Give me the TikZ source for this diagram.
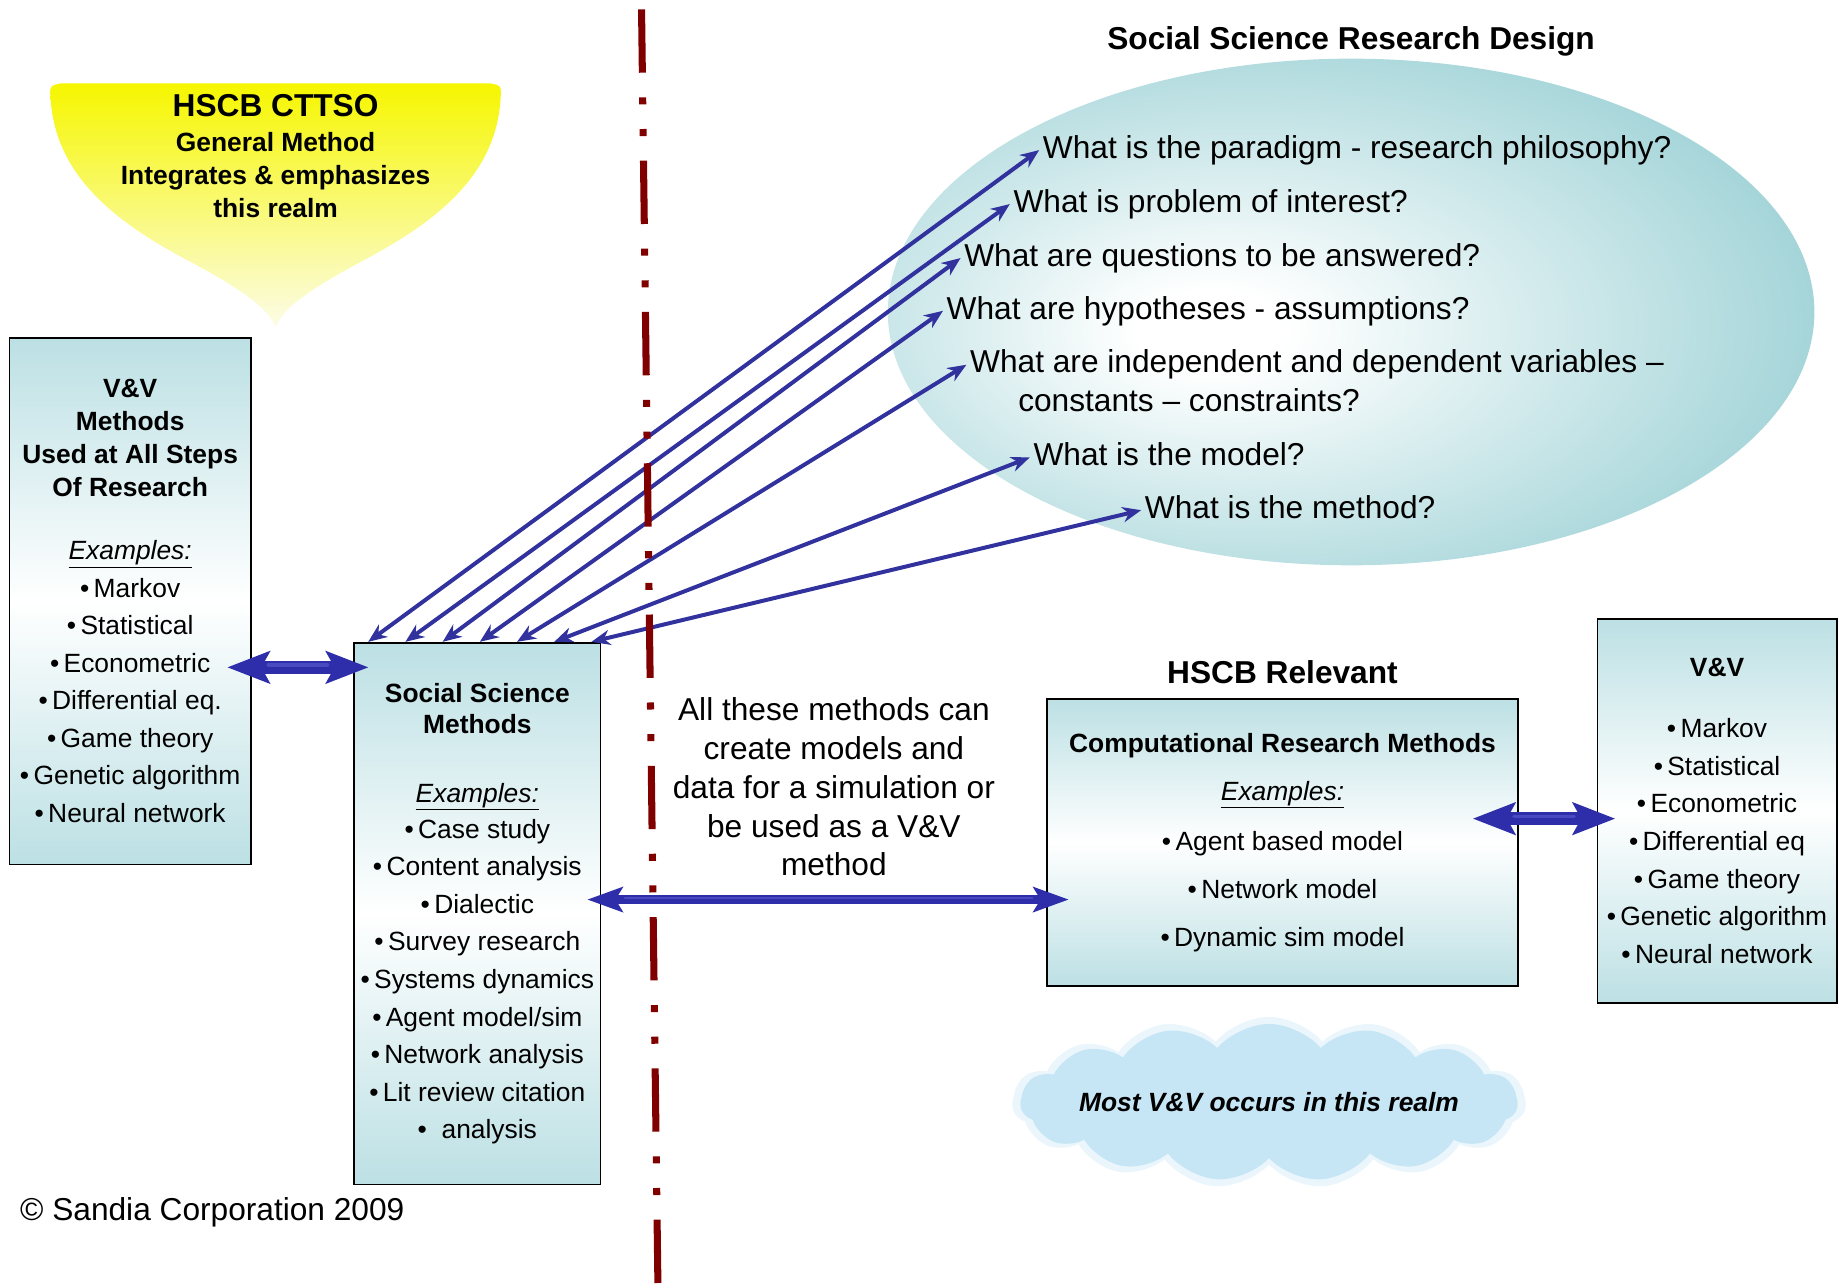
\documentclass[tikz,border=0pt]{standalone}
\usepackage{fontspec}
\setmainfont{Liberation Sans}
\usetikzlibrary{positioning, calc, arrows.meta, shapes.geometric, shapes.symbols}

\definecolor{boxteal}{RGB}{188,224,228}
\definecolor{designteal}{RGB}{122,193,199}
\definecolor{arrowblue}{RGB}{50,50,158}
\definecolor{fatblue}{RGB}{46,46,170}
\definecolor{fatlight}{RGB}{74,74,192}
\definecolor{realmred}{RGB}{128,0,0}
\definecolor{funnelyellow}{RGB}{246,246,0}
\definecolor{funnelpale}{RGB}{252,252,232}
\definecolor{cloudblue}{RGB}{198,230,246}

\newcommand{\bigtxt}{\fontsize{27}{33}\selectfont}
\newcommand{\boxtxt}{\fontsize{22.5}{32}\selectfont}
\newcommand{\examples}{\underline{\textit{Examples:}}}

\pgfdeclareradialshading{designglow}{\pgfpoint{-8bp}{-2bp}}{color(0bp)=(white); color(4bp)=(white); color(42bp)=(designteal); color(70bp)=(designteal)}

\tikzset{
  vvbox/.style={draw, line width=1.5pt, top color=boxteal, bottom color=boxteal, middle color=white, align=center, inner sep=0pt, font=\boxtxt},
  question/.style={anchor=west, inner sep=3pt, font=\bigtxt, text height=19pt, text depth=5pt},
  qarrow/.style={draw=arrowblue, line width=3.4pt, {Stealth[length=16pt,width=13pt]}-{Stealth[length=16pt,width=13pt]}},
  fatarrow/.style={draw=fatblue, line width=11pt, {Stealth[length=36pt,width=27pt,inset=7pt]}-{Stealth[length=36pt,width=27pt,inset=7pt]}},
  longarrow/.style={draw=fatblue, line width=8pt, {Stealth[length=30pt,width=21pt,inset=6pt]}-{Stealth[length=30pt,width=21pt,inset=6pt]}},
  shine/.style={draw=fatlight, line width=3pt, line cap=round},
}

\begin{document}
\begin{tikzpicture}[x=1pt, y=-1pt, >=Stealth]
    \useasboundingbox (0,0) rectangle (1568,1098);
    % yellow funnel
    \shade[top color=funnelyellow, bottom color=funnelpale] (43,80) .. controls (43,73) .. (52,71) -- (418,71) .. controls (427,73) .. (427,80) .. controls (425,150) and (370,190) .. (310,222) .. controls (265,246) and (242,262) .. (235,279) .. controls (228,262) and (205,246) .. (160,222) .. controls (100,190) and (45,150) .. cycle;
    \node[font=\fontsize{22.5}{28}\selectfont\bfseries, align=center] (cttso) at (235,133) {{\fontsize{27}{28}\selectfont HSCB CTTSO}\\[2pt] General Method\\ Integrates \& emphasizes\\ this realm};
    % research design
    \node[ellipse, shade, shading=designglow, minimum width=790pt, minimum height=432pt, inner sep=0pt] (design) at (1152,266) {};
    \node[font=\bigtxt\bfseries, inner sep=0pt, above=2pt of design] (designtitle) {Social Science Research Design};
    \node[question] (q1) at (886,128) {What is the paradigm - research philosophy?};
    \node[question] (q2) at (861,174) {What is problem of interest?};
    \node[question] (q3) at (819,220) {What are questions to be answered?};
    \node[question] (q4) at (804,265) {What are hypotheses - assumptions?};
    \node[question] (q5) at (824,311) {What are independent and dependent variables --};
    \node[question] (q5b) at (865,344) {constants -- constraints?};
    \node[question] (q6) at (878,390) {What is the model?};
    \node[question] (q7) at (973,435) {What is the method?};
    % boxes
    \node[vvbox, minimum width=206pt, minimum height=449pt] (vvl) at (111,512.5) {\textbf{V\&V}\\[-4pt] \textbf{Methods}\\[-4pt] \textbf{Used at All Steps}\\[-4pt] \textbf{Of Research}\\[22pt] \examples\\ •\,Markov\\ •\,Statistical\\ •\,Econometric\\ •\,Differential eq.\\ •\,Game theory\\ •\,Genetic algorithm\\ •\,Neural network};
    \node[vvbox, minimum width=210pt, minimum height=462pt] (ssm) at (407,779) {\textbf{Social Science}\\[-5pt] \textbf{Methods}\\[26pt] \examples\\[-1pt] •\,Case study\\ •\,Content analysis\\ •\,Dialectic\\ •\,Survey research\\ •\,Systems dynamics\\ •\,Agent model/sim\\ •\,Network analysis\\ •\,Lit review citation\\ •~~analysis};
    \node[vvbox, minimum width=401pt, minimum height=245pt, font=\fontsize{22.5}{41}\selectfont] (crm) at (1093.5,718.5) {\textbf{Computational Research Methods}\\ \examples\\[2pt] •\,Agent based model\\ •\,Network model\\ •\,Dynamic sim model};
    \node[font=\bigtxt\bfseries, inner sep=0pt, above=12pt of crm] (relevant) {HSCB Relevant};
    \node[vvbox, minimum width=204pt, minimum height=327pt] (rvv) at (1464,691.5) {\textbf{V\&V}\\[20pt] •\,Markov\\ •\,Statistical\\ •\,Econometric\\ •\,Differential eq\\ •\,Game theory\\ •\,Genetic algorithm\\ •\,Neural network};
    % design questions
    \foreach \q [count=\i, evaluate=\i as \f using 0.06+0.15*(\i-1)] in {q1,q2,q3,q4,q5,q6,q7}
        \draw[qarrow] ($(ssm.north west)!\f!(ssm.north east)$) -- (\q.west);
    % links between the boxes
    \coordinate (fat1) at (0,569);
    \coordinate (fat2) at (0,767);
    \coordinate (fat3) at (0,698);
    \draw[fatarrow, shorten <=-21pt, shorten >=-13pt] (vvl.east |- fat1) -- (ssm.west |- fat1);
    \draw[shine, shorten <=14pt, shorten >=22pt, transform canvas={yshift=2pt}] (vvl.east |- fat1) -- (ssm.west |- fat1);
    \draw[longarrow, shorten <=-12pt, shorten >=-19pt] (ssm.east |- fat2) -- (crm.west |- fat2);
    \draw[shine, line width=2pt, shorten <=20pt, shorten >=12pt, transform canvas={yshift=1.5pt}] (ssm.east |- fat2) -- (crm.west |- fat2);
    \draw[fatarrow, shorten <=-39pt, shorten >=-16pt] (crm.east |- fat3) -- (rvv.west |- fat3);
    \draw[shine, shorten <=-4pt, shorten >=19pt, transform canvas={yshift=2pt}] (crm.east |- fat3) -- (rvv.west |- fat3);
    \node[font=\bigtxt, align=center] (note) at (711,671) {All these methods can\\ create models and\\ data for a simulation or\\ be used as a V\&V\\ method};
    % realm cloud
    \node[cloud, cloud puffs=15, cloud puff arc=100, aspect=3, fill=cloudblue, opacity=.35, minimum width=438pt, minimum height=146pt] (realmhalo) at (1082,940) {};
    \node[cloud, cloud puffs=15, cloud puff arc=100, aspect=3, fill=cloudblue, minimum width=424pt, minimum height=134pt] (realm) at (1082,940) {};
    \node[font=\boxtxt\bfseries\itshape] (realmtext) at (realm.center) {Most V\&V occurs in this realm};
    \node[font=\bigtxt, anchor=west, inner sep=0pt] (copy) at (17,1034) {© Sandia Corporation 2009};
    % divider
    \coordinate (divtop) at (547,8);
    \coordinate (divbot) at (561,1098);
    \draw[realmred, line width=6pt, dash pattern=on 54pt off 21pt on 6pt off 21pt on 6pt off 21pt] (divtop) -- (divbot);
\end{tikzpicture}
\end{document}
